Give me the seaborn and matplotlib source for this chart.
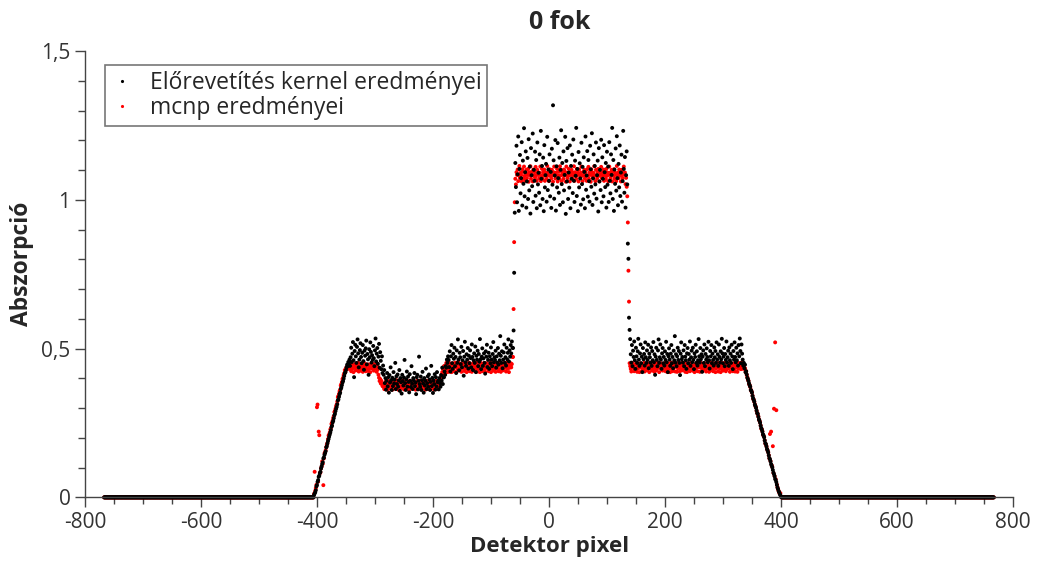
import numpy as np
import pandas as pd
import matplotlib
matplotlib.use('Agg')
import matplotlib.pyplot as plt
import matplotlib.ticker as mticker
import seaborn as sns

# absorption values in thousandths
# detector pixels outside the object are all zero
zero_left_pixels = (-767, -407)
zero_right_pixels = (402, 767)

kernel_label = 'Előrevetítés kernel eredményei'
mcnp_label = 'mcnp eredményei'

kernel_ramp_up = [
    0, 8, 13, 17, 24, 37, 41, 52, 58, 69,
    73, 82, 86, 97, 104, 112, 118, 131, 134, 143,
    149, 155, 168, 172, 181, 189, 196, 204, 211, 218,
    226, 237, 241, 252, 257, 266, 276, 281, 290, 298,
    304, 313, 326, 329, 338, 347, 352, 364, 369, 377,
    386, 391, 399, 408, 417, 421, 428, 437, 446, 441,
    455, 449, 463]
kernel_plateau1 = [
    442, 471, 503, 455, 483, 522, 461, 404, 492, 513,
    474, 452, 506, 531, 484, 437, 463, 495, 518, 472,
    451, 486, 512, 458, 429, 493, 476, 501, 527, 447,
    482, 464, 412, 498, 471, 521, 489, 453, 478, 462,
    509, 468, 441, 494, 534, 457, 483, 502, 449, 473,
    516, 436, 488, 459, 431, 474, 418]
kernel_dip = [
    443, 412, 428, 384, 401, 362,
    392, 418, 373, 404, 352, 411, 386, 437, 394, 361,
    402, 374, 421, 383, 396, 452, 364, 407, 381, 413,
    372, 393, 428, 358, 401, 387, 349, 412, 391, 376,
    403, 462, 384, 361, 397, 423, 372, 406, 388, 353,
    414, 392, 371, 441, 382, 364, 401, 393, 418, 374,
    386, 347, 404, 412, 363, 392, 473, 381, 372, 406,
    361, 394, 422, 383, 352, 401, 376, 392, 433, 364,
    384, 407, 372, 413, 396, 361, 388, 442, 374, 402,
    351, 393, 381, 414, 362, 404, 373, 421, 387, 392,
    363, 401, 384, 372, 411, 392, 436, 381, 403,
    404, 423, 412, 441, 436, 463, 452, 474]
kernel_plateau2 = [
    462, 438, 491, 423, 474, 512, 451, 432, 483, 466,
    503, 441, 472, 418, 494, 452, 531, 463, 427, 486,
    471, 448, 506, 437, 461, 492, 409, 473, 523, 454,
    442, 481, 463, 502, 433, 476, 451, 494, 468, 437,
    514, 472, 428, 461, 484, 452, 507, 421, 476, 463,
    493, 441, 482, 456, 532, 464, 431, 473, 501, 442,
    467, 484, 452, 416, 491, 473, 513, 438, 462, 486,
    432, 474, 451, 504, 463, 441, 482, 522, 454, 471,
    462, 493, 436, 474, 453, 502, 446, 483, 461, 542,
    476, 452, 491, 434, 463, 487, 514, 452, 471, 443,
    503, 464, 486, 531, 457, 494, 473, 512, 484, 524,
    503]
kernel_jump_up = [502, 561, 755, 957]
kernel_centre = [
    1124, 1043, 1182, 992, 1086, 1213, 963, 1104, 1151, 1022,
    1073, 1194, 981, 1132, 1054, 1241, 1012, 1093, 1163, 974,
    1062, 1141, 1003, 1204, 1032, 1112, 954, 1174, 1083, 1046,
    1223, 993, 1101, 1064, 1162, 1014, 1134, 972, 1193, 1052,
    1091, 1024, 1153, 982, 1232, 1071, 1114, 1003, 1142, 962,
    1184, 1042, 1083, 1121, 994, 1212, 1033, 1102, 1064, 1153,
    1012, 1094, 973, 1172, 1051, 1318, 1133, 1004, 1082, 1201,
    964, 1113, 1042, 1191, 1073, 1024, 1142, 983, 1101, 1234,
    1053, 1124, 992, 1163, 1032, 1084, 1212, 953, 1131, 1062,
    1174, 1003, 1092, 1041, 1183, 972, 1114, 1071, 1152, 1023,
    1203, 1064, 993, 1132, 1081, 1242, 1013, 1104, 962, 1161,
    1042, 1123, 1072, 984, 1192, 1053, 1111, 1002, 1143, 1094,
    972, 1213, 1034, 1082, 1164, 1011, 1134, 1063, 994, 1182,
    1103, 1044, 1224, 983, 1072, 1153, 1021, 1114, 1052, 1193,
    1004, 1083, 1132, 961, 1174, 1062, 1101, 1033, 1202, 992,
    1143, 1071, 1012, 1184, 1093, 1043, 1124, 974, 1162, 1051,
    1112, 993, 1194, 1064, 1022, 1153, 1084, 1242, 1003, 1134,
    963, 1102, 1054, 1173, 1031, 1214, 1073, 982, 1121, 1042,
    1183, 1013, 1092, 1152, 994, 1063, 1232, 1104, 1024, 1144,
    974, 1083, 1163, 1052]
kernel_jump_down = [853, 802, 604, 563]
kernel_plateau3 = [
    532, 481, 453, 512, 441, 493, 472, 524, 461, 432,
    503, 474, 452, 491, 533, 463, 442, 484, 514, 451,
    473, 421, 502, 464, 482, 443, 521, 471, 452, 494,
    462, 513, 434, 483, 471, 453, 504, 442, 492, 461,
    522, 454, 481, 412, 473, 503, 462, 441, 494, 531,
    452, 471, 514, 463, 432, 484, 502, 451, 472, 443,
    491, 462, 523, 454, 482, 421, 474, 501, 463, 442,
    483, 512, 451, 472, 434, 493, 461, 542, 453, 481,
    441, 474, 503, 462, 492, 452, 411, 483, 521, 464,
    472, 453, 494, 441, 512, 473, 461, 432, 484, 502,
    451, 482, 463, 524, 442, 471, 493, 454, 503, 462,
    431, 484, 472, 513, 452, 491, 443, 461, 532, 474,
    453, 502, 464, 481, 422, 473, 494, 452, 514, 441,
    482, 463, 501, 472, 454, 523, 461, 433, 492, 474,
    512, 451, 483, 462, 443, 504, 471, 492, 452, 521,
    463, 481, 442, 514, 472, 453, 491, 464, 533, 484,
    451, 473, 502, 441, 482, 462, 524, 453, 471, 493,
    442, 504, 461, 483, 452, 513, 474, 431, 492, 463,
    521, 472, 454, 503, 461, 484, 443, 512, 474, 534,
    492, 451, 514, 483, 463]
kernel_ramp_down = [
    443, 452, 434, 446, 421, 424, 413, 402, 398, 391,
    383, 377, 372, 361, 358, 352, 341, 333, 328, 322,
    312, 307, 301, 292, 283, 281, 271, 262, 258, 251,
    241, 233, 228, 221, 212, 208, 202, 191, 182, 179,
    171, 162, 158, 151, 141, 132, 128, 121, 112, 107,
    101, 92, 83, 78, 71, 62, 58, 51, 42, 33,
    28, 21, 17, 11, 7, 2, 0]

mcnp_ramp_up = [
    0, 12, 86, 22, 31, 42, 303, 312, 53, 221,
    209, 81, 84, 97, 103, 121, 113, 41, 131, 148,
    151, 158, 169, 177, 183, 196, 208, 211, 218, 228,
    232, 247, 251, 258, 267, 273, 287, 291, 298, 307,
    312, 322, 337, 341, 348, 357, 362, 376, 381, 388,
    398, 402, 411, 417, 428, 421, 433, 438, 431, 442,
    433, 441, 436]
mcnp_plateau1 = [
    432, 441, 424, 447, 433, 438, 421, 436, 448, 442,
    427, 434, 443, 431, 452, 423, 441, 437, 426, 444,
    449, 432, 422, 441, 436, 451, 439, 424, 433, 446,
    431, 425, 447, 442, 434, 421, 443, 437, 451, 432,
    441, 426, 436, 448, 439, 433, 422, 442, 431, 412,
    402, 391, 398, 383, 392, 381, 374]
mcnp_dip = [
    378, 371, 364, 382, 388, 372, 379, 362, 374, 391,
    383, 366, 373, 384, 392, 371, 362, 381, 376, 389,
    372, 383, 364, 394, 371, 382, 376, 361, 384, 391,
    367, 373, 386, 372, 393, 381, 363, 374, 382, 371,
    391, 364, 383, 376, 381, 362, 392, 371, 384, 377,
    366, 382, 391, 373, 384, 371, 362, 381, 376, 392,
    383, 372, 364, 381, 393, 374, 382, 363, 371, 386,
    391, 374, 383, 362, 373, 392, 381, 371, 364, 384,
    372, 391, 382, 366, 374, 383, 393, 371, 362, 381,
    373, 384, 392, 371, 383, 364, 382, 374, 391, 386,
    402, 413, 421, 432, 418, 441, 428, 443, 434, 452,
    421]
mcnp_plateau2 = [
    433, 441, 422, 452, 431, 443, 436, 421, 444, 451,
    432, 424, 442, 437, 453, 441, 423, 434, 446, 431,
    452, 427, 441, 433, 422, 444, 451, 436, 442, 425,
    434, 452, 443, 421, 433, 446, 431, 453, 424, 441,
    436, 443, 422, 431, 451, 444, 432, 426, 442, 437,
    453, 431, 423, 444, 436, 442, 421, 452, 433, 441,
    424, 434, 445, 452, 431, 422, 441, 436, 451, 443,
    432, 424, 442, 437, 453, 421, 444, 433, 441, 426,
    451, 432, 443, 422, 436, 452, 441, 433, 424, 446,
    431, 453, 422, 442, 434, 441, 427, 433, 452, 444,
    436, 423, 441, 453, 432, 444, 421, 436, 442, 451,
    437, 448, 472]
mcnp_jump_up = [472, 633, 858, 992]
mcnp_centre = [
    1071, 1052, 1093, 1084, 1102, 1063, 1082, 1114, 1074, 1091,
    1083, 1062, 1103, 1094, 1072, 1112, 1081, 1064, 1092, 1101,
    1073, 1084, 1104, 1061, 1093, 1082, 1113, 1071, 1094, 1083,
    1062, 1102, 1081, 1093, 1074, 1111, 1083, 1064, 1101, 1092,
    1084, 1073, 1091, 1112, 1063, 1082, 1104, 1071, 1093, 1081,
    1102, 1064, 1092, 1083, 1071, 1114, 1091, 1082, 1063, 1103,
    1081, 1094, 1072, 1101, 1083, 1061, 1093, 1112, 1084, 1072,
    1091, 1083, 1104, 1062, 1081, 1094, 1071, 1113, 1082, 1101,
    1063, 1092, 1084, 1071, 1102, 1083, 1094, 1061, 1112, 1081,
    1073, 1091, 1104, 1082, 1062, 1093, 1084, 1101, 1071, 1092,
    1081, 1113, 1064, 1093, 1082, 1071, 1104, 1083, 1091, 1062,
    1102, 1084, 1073, 1091, 1112, 1081, 1063, 1094, 1082, 1101,
    1072, 1093, 1081, 1064, 1103, 1082, 1111, 1071, 1092, 1084,
    1061, 1102, 1093, 1081, 1074, 1091, 1113, 1082, 1063, 1101,
    1083, 1072, 1094, 1104, 1081, 1062, 1092, 1084, 1111, 1073,
    1091, 1082, 1102, 1064, 1083, 1093, 1071, 1104, 1081, 1092,
    1063, 1084, 1112, 1091, 1072, 1083, 1101, 1062, 1094, 1081,
    1103, 1071, 1092, 1084, 1063, 1114, 1082, 1091, 1073, 1102,
    1081, 1094, 1062, 1101, 1083, 1072, 1093, 1112, 1084, 1092,
    1053, 1074, 1044, 1012]
mcnp_jump_down = [924, 762, 658, 451]
mcnp_plateau3 = [
    441, 432, 423, 444, 452, 436, 441, 424, 433, 447,
    431, 453, 422, 442, 434, 446, 421, 437, 451, 443,
    424, 433, 446, 431, 452, 423, 442, 436, 444, 427,
    451, 434, 443, 421, 436, 442, 453, 431, 426, 441,
    433, 444, 422, 452, 436, 427, 441, 434, 453, 442,
    421, 436, 443, 451, 432, 444, 426, 433, 442, 437,
    452, 424, 441, 433, 422, 446, 451, 432, 444, 421,
    436, 453, 442, 424, 431, 446, 437, 451, 423, 441,
    443, 422, 434, 452, 441, 436, 424, 443, 431, 452,
    427, 442, 433, 441, 453, 422, 436, 444, 421, 434,
    451, 432, 443, 424, 436, 452, 441, 433, 426, 442,
    434, 421, 446, 432, 451, 443, 424, 437, 441, 453,
    422, 436, 452, 441, 433, 424, 446, 431, 451, 437,
    442, 423, 434, 452, 441, 436, 422, 443, 431, 427,
    453, 441, 432, 424, 442, 436, 451, 421, 433, 446,
    437, 452, 423, 441, 434, 443, 421, 453, 432, 444,
    426, 433, 441, 452, 436, 424, 443, 431, 451, 442,
    434, 443, 422, 436, 452, 441, 433, 424, 442, 431,
    451, 423, 441, 436, 443, 422, 434, 452, 441, 433,
    442, 431, 453, 444, 436]
mcnp_ramp_down = [
    432, 441, 436, 433, 421, 424, 412, 404, 396, 392,
    381, 378, 371, 362, 357, 353, 342, 331, 329, 321,
    313, 306, 302, 291, 284, 279, 272, 263, 257, 252,
    242, 231, 229, 222, 211, 207, 203, 192, 181, 178,
    172, 163, 157, 152, 142, 131, 213, 122, 221, 108,
    102, 172, 82, 298, 72, 521, 61, 293, 43, 34,
    27, 22, 16, 12, 14, 3, 0]

# first detector pixel of each segment
segment_starts = [-406, -343, -286, -173, -62, -58, 136, 140, 335]
mcnp_starts = [-406, -343, -286, -175, -62, -58, 136, 140, 335]

kernel_segments = [kernel_ramp_up, kernel_plateau1, kernel_dip, kernel_plateau2,
                   kernel_jump_up, kernel_centre, kernel_jump_down,
                   kernel_plateau3, kernel_ramp_down]
mcnp_segments = [mcnp_ramp_up, mcnp_plateau1, mcnp_dip, mcnp_plateau2,
                 mcnp_jump_up, mcnp_centre, mcnp_jump_down,
                 mcnp_plateau3, mcnp_ramp_down]


def build(starts, segments, label):
    xs = [np.arange(zero_left_pixels[0], zero_left_pixels[1] + 1)]
    ys = [np.zeros(len(xs[0]))]
    for start, vals in zip(starts, segments):
        xs.append(np.arange(start, start + len(vals)))
        ys.append(np.array(vals) / 1000.0)
    xs.append(np.arange(zero_right_pixels[0], zero_right_pixels[1] + 1))
    ys.append(np.zeros(len(xs[-1])))
    return pd.DataFrame({'pixel': np.concatenate(xs),
                         'abs': np.concatenate(ys),
                         'series': label})


df_kernel = build(segment_starts, kernel_segments, kernel_label)
df_mcnp = build(mcnp_starts, mcnp_segments, mcnp_label)
# red drawn first so the black points lie on top
df = pd.concat([df_mcnp, df_kernel], ignore_index=True)

sns.set_style('ticks')
plt.rcParams['font.family'] = ['Open Sans', 'DejaVu Sans']
plt.rcParams['axes.unicode_minus'] = False

fig, ax = plt.subplots(figsize=(10.4, 5.62), dpi=100)
fig.subplots_adjust(left=0.0817, right=0.974, bottom=0.115, top=0.909)

sns.scatterplot(data=df, x='pixel', y='abs', hue='series',
                hue_order=[kernel_label, mcnp_label], palette=['black', 'red'],
                s=8, linewidth=0, ax=ax, clip_on=False)

ax.set_xlim(-800, 800)
ax.set_ylim(0, 1.5)
ax.xaxis.set_major_locator(mticker.MultipleLocator(200))
ax.xaxis.set_minor_locator(mticker.MultipleLocator(50))
ax.yaxis.set_major_locator(mticker.MultipleLocator(0.5))
ax.yaxis.set_minor_locator(mticker.MultipleLocator(0.1))
comma = mticker.FuncFormatter(lambda v, p: ('%g' % v).replace('.', ','))
ax.xaxis.set_major_formatter(comma)
ax.yaxis.set_major_formatter(comma)

ax.tick_params(which='major', direction='out', length=7, width=1,
               color='#444444', labelsize=15, labelcolor='#333333')
ax.tick_params(which='minor', direction='out', length=5, width=1,
               color='#444444')
sns.despine(ax=ax)
for side in ['left', 'bottom']:
    ax.spines[side].set_color('#444444')
    ax.spines[side].set_linewidth(1)

ax.set_xlabel('')
ax.set_ylabel('')
fig.text(0.528, 0.028, 'Detektor pixel', ha='center', va='center',
         fontsize=16, fontweight='bold')
fig.text(0.021, 0.53, 'Abszorpció', ha='center', va='center',
         rotation=90, fontsize=16.5, fontweight='bold')
fig.text(0.538, 0.96, '0 fok', ha='center', va='center',
         fontsize=18, fontweight='bold')

handles, labels = ax.get_legend_handles_labels()
leg = ax.legend(handles, labels, loc='upper left',
                bbox_to_anchor=(0.0215, 0.9686), borderaxespad=0,
                fontsize=16.5, frameon=True, fancybox=False, framealpha=1,
                edgecolor='#777777', handlelength=1.0, handletextpad=0.7,
                borderpad=0.25, labelspacing=0.05, markerscale=0.8)
leg.get_frame().set_linewidth(1.2)

plt.savefig('out.png', dpi=100)
